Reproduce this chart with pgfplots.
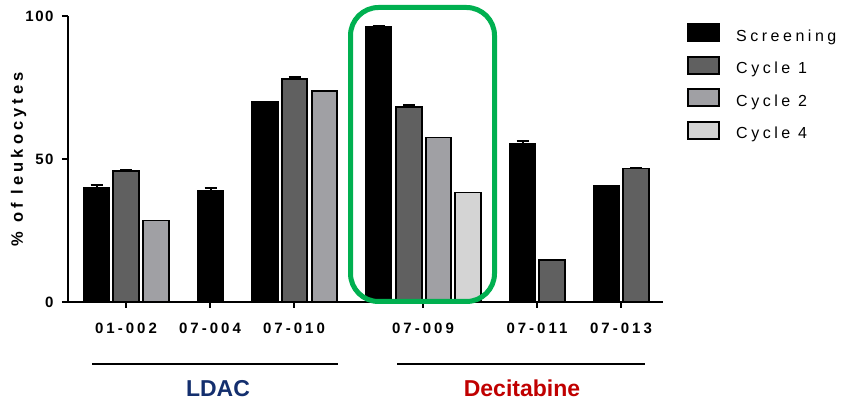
\documentclass[border=0pt]{standalone}
\usepackage{pgfplots}
\pgfplotsset{compat=1.18}
\usepackage{fontspec}
\setmainfont{Liberation Sans}
\newfontfamily\xtickfont[LetterSpace=20]{Liberation Sans}
\newfontfamily\ytickfont[LetterSpace=10]{Liberation Sans}
\newfontfamily\legfont[LetterSpace=22]{Liberation Sans}
\newfontfamily\ylabfont[LetterSpace=25]{Liberation Sans}
\definecolor{cOne}{HTML}{606060}
\definecolor{cTwo}{HTML}{A0A0A4}
\definecolor{cFour}{HTML}{D4D4D4}
\definecolor{ldac}{HTML}{142F6E}
\definecolor{deci}{HTML}{C00000}
\definecolor{boxgreen}{HTML}{00B050}
\begin{document}
\begin{tikzpicture}
\path[use as bounding box] (0,0) rectangle (843bp,401bp);
\begin{axis}[
  at={(68bp,99bp)}, anchor=south west,
  scale only axis, width=595bp, height=286bp,
  xmin=68, xmax=663, ymin=0, ymax=100,
  axis x line*=bottom, axis y line*=left,
  axis line style={line width=2.5bp, black},
  ybar, bar width=25.5, bar shift=0pt,
  xtick={126,210,294,423,537,621},
  xticklabels={01-002,07-004,07-010,07-009,07-011,07-013},
  ytick={0,50,100},
  tick align=outside, major tick length=6bp,
  tick style={line width=2bp, black},
  xticklabel style={font=\fontsize{15bp}{18bp}\xtickfont\bfseries, yshift=-12bp},
  yticklabel style={font=\fontsize{15bp}{18bp}\ytickfont\bfseries, xshift=-5bp},
  /pgf/number format/assume math mode=true,
  ylabel={\fontsize{16.5bp}{19bp}\ylabfont\bfseries \% of leukocytes},
  ylabel style={at={(axis description cs:-0.083,0.5)}, anchor=center},
  legend style={at={(axis description cs:1.0403,0.9755)}, anchor=north west, draw=none, fill=none, inner sep=0pt,
    font=\fontsize{16bp}{19bp}\legfont, row sep=11bp,
    /tikz/every odd column/.style={column sep=14bp}},
  legend cell align=left,
  legend image code/.code={\draw[#1, line width=2bp] (0bp,-5bp) rectangle (31bp,12bp);},
  error bars/error bar style={line width=2bp, black},
  error bars/error mark options={rotate=90, mark size=6bp, line width=2bp, black},
]
\addplot[fill=black, draw=black, line width=1.8bp, error bars/.cd, y dir=plus, y explicit]
  coordinates {(96.5,40.0) +- (0,1.0) (210.5,38.9) +- (0,1.1) (265,69.8) +- (0,0.3) (378.5,96.3) +- (0,0.3) (522.5,55.4) +- (0,0.9) (606.5,40.7) +- (0,0)};
\addplot[fill=cOne, draw=black, line width=1.8bp, error bars/.cd, y dir=plus, y explicit]
  coordinates {(126,45.8) +- (0,0.4) (294.5,78.1) +- (0,0.5) (409,68.2) +- (0,0.8) (552,14.8) +- (0,0) (636,46.7) +- (0,0)};
\addplot[fill=cTwo, draw=black, line width=1.8bp]
  coordinates {(156,28.5) (324.5,73.8) (438.5,57.5)};
\addplot[fill=cFour, draw=black, line width=1.8bp]
  coordinates {(468,38.3)};
\legend{Screening,Cycle 1,Cycle 2,Cycle 4}
\end{axis}
\draw[line width=5bp, boxgreen, rounded corners=28bp] (350.5bp,99.5bp) rectangle (494.5bp,393.5bp);
\draw[line width=2.5bp] (92bp,37bp) -- (338bp,37bp);
\draw[line width=2.5bp] (397bp,37bp) -- (645bp,37bp);
\node[anchor=base, font=\fontsize{23bp}{26bp}\selectfont\bfseries, text=ldac, inner sep=0pt, text depth=0pt] at (218bp,5bp) {LDAC};
\node[anchor=base, font=\fontsize{23bp}{26bp}\selectfont\bfseries, text=deci, inner sep=0pt, text depth=0pt] at (522bp,5bp) {Decitabine};
\end{tikzpicture}
\end{document}
